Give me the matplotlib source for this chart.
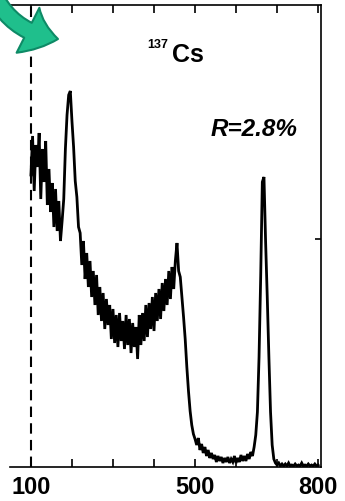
import matplotlib
matplotlib.use("Agg")
import matplotlib.pyplot as plt
import matplotlib.patches as mpatches
import numpy as np

plt.rcParams["font.family"] = ["Liberation Sans", "DejaVu Sans"]

# Cs-137 pulse-height spectrum, channels 100..800 in steps of 4
channels = np.arange(100, 804, 4)
counts = [
    292, 331, 276, 322, 300, 334, 268, 318, 285, 326,
    262, 298, 255, 284, 240, 278, 236, 266, 226, 246,
    268, 318, 352, 372, 376, 346, 320, 286, 270, 240,
    234, 202, 226, 188, 214, 180, 206, 170, 196, 162,
    192, 152, 180, 146, 174, 138, 168, 142, 162, 128,
    158, 124, 152, 120, 154, 126, 146, 118, 152, 122,
    148, 114, 144, 120, 140, 108, 152, 122, 154, 126,
    162, 130, 164, 138, 170, 136, 174, 146, 178, 148,
    184, 156, 188, 162, 196, 168, 200, 178, 206, 224,
    196, 190, 170, 150, 128, 100, 76, 56, 42, 33,
    28, 22, 29, 17, 23, 14, 20, 11, 17, 9,
    14, 8, 12, 5, 11, 6, 10, 4, 9, 5,
    10, 4, 8, 5, 11, 4, 9, 5, 12, 6,
    11, 6, 13, 8, 15, 11, 20, 32, 55, 110,
    190, 285, 290, 225, 170, 110, 55, 22, 8, 4,
    2, 4, 1, 3, 1, 3, 1, 4, 1, 2,
    1, 3, 1, 2, 1, 4, 1, 2, 1, 3,
    1, 2, 1, 3, 1, 2,
]

xticks = [100, 200, 300, 400, 500, 600, 700, 800]
xticklabels = ["100", "", "", "", "500", "", "", "800"]
threshold = 100

fig = plt.figure(figsize=(3.45, 5.02), dpi=100)
ax = fig.add_axes([10 / 345, 1 - 468 / 502, 311 / 345, 462 / 502])

ax.plot(channels, counts, color="black", lw=2.0, solid_joinstyle="miter")
ax.axvline(threshold, color="black", lw=1.5, ls=(0, (5, 3)))

ax.set_xlim(49, 807)
ax.set_ylim(0, 462)
ax.spines["left"].set_visible(False)
for side in ("top", "bottom", "right"):
    ax.spines[side].set_linewidth(1.2)

ax.set_xticks(xticks)
ax.set_xticklabels(xticklabels, fontsize=17, fontweight="bold")
ax.tick_params(axis="x", direction="in", top=True, length=6, width=1.2, pad=6)
ax.set_yticks([228])
ax.tick_params(axis="y", direction="in", left=False, right=True,
               labelleft=False, length=4, width=1.2)

# isotope label and resolution
fig.text(147 / 345, 1 - 48 / 502, "137", fontsize=9, fontweight="bold",
         va="baseline", ha="left")
fig.text(172 / 345, 1 - 62 / 502, "Cs", fontsize=18, fontweight="bold",
         va="baseline", ha="left")
fig.text(211 / 345, 1 - 136 / 502, "R=2.8%", fontsize=17.5, style="italic",
         fontweight="bold", va="baseline", ha="left")

# curved pointer in the top-left corner
arrow = mpatches.FancyArrowPatch(
    (-10, 515), (58, 462),
    connectionstyle="arc3,rad=0.3",
    arrowstyle=mpatches.ArrowStyle.Simple(head_length=0.9, head_width=1.45, tail_width=0.48),
    mutation_scale=25, shrinkA=0, shrinkB=0,
    facecolor="#1fbf8c", edgecolor="#0e8a66", lw=1.5,
    transform=None, figure=fig,
)
fig.patches.append(arrow)

fig.savefig("out.png", dpi=100)
